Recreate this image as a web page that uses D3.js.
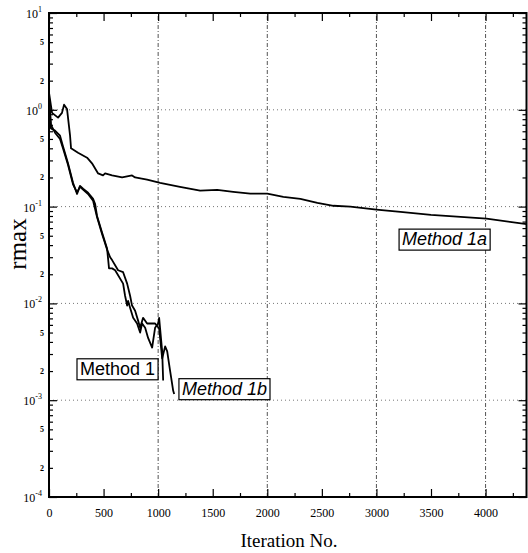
<!DOCTYPE html>
<html>
<head>
<meta charset="utf-8">
<script src="https://cdn.jsdelivr.net/npm/d3@7.9.0/dist/d3.min.js"></script>
<style>
  body { margin: 0; background: #fff; }
  svg { display: block; }
</style>
</head>
<body>
<div id="chart"></div>
<script>
// [iteration, rmax]
const method1 = [
  [0, 1.39], [18, 0.64], [55, 0.61], [101, 0.54], [128, 0.42], [174, 0.28],
  [220, 0.176], [257, 0.135], [284, 0.164], [312, 0.153], [358, 0.139],
  [404, 0.12], [422, 0.107], [440, 0.08], [486, 0.054], [532, 0.037],
  [550, 0.023], [578, 0.023], [606, 0.022], [679, 0.016], [697, 0.012],
  [716, 0.0095], [725, 0.0106], [743, 0.009], [771, 0.0071], [807, 0.0062],
  [835, 0.005], [853, 0.0062], [881, 0.0056], [908, 0.0044], [945, 0.0035],
  [954, 0.0041], [972, 0.0056], [1000, 0.0062], [1009, 0.0071],
  [1018, 0.0055], [1037, 0.0032], [1046, 0.0016]
];
const method1b = [
  [0, 1.3], [18, 0.7], [55, 0.58], [101, 0.5], [128, 0.4], [174, 0.27],
  [220, 0.17], [257, 0.14], [284, 0.16], [312, 0.15], [358, 0.135],
  [404, 0.115], [440, 0.078], [486, 0.052], [532, 0.036], [560, 0.03],
  [578, 0.028], [633, 0.022], [679, 0.021], [716, 0.016], [743, 0.012],
  [761, 0.0095], [789, 0.0084], [817, 0.0066], [835, 0.0056], [862, 0.0071],
  [899, 0.0062], [927, 0.0062], [972, 0.0062], [1009, 0.0055],
  [1037, 0.0027], [1064, 0.0036], [1083, 0.0032], [1110, 0.002],
  [1138, 0.00125], [1147, 0.00116]
];
const method1a = [
  [0, 1.5], [28, 0.93], [83, 0.83], [119, 0.93], [138, 1.13], [165, 1.02],
  [193, 0.54], [202, 0.40], [266, 0.36], [349, 0.32], [394, 0.28],
  [450, 0.22], [495, 0.21], [514, 0.22], [578, 0.21], [670, 0.20],
  [761, 0.21], [789, 0.20], [899, 0.19], [1018, 0.176], [1200, 0.16],
  [1385, 0.146], [1541, 0.149], [1688, 0.142], [1844, 0.136], [2000, 0.136],
  [2147, 0.126], [2303, 0.12], [2459, 0.109], [2606, 0.102], [2761, 0.1],
  [3000, 0.093], [3220, 0.088], [3500, 0.082], [4009, 0.075], [4376, 0.066]
];

const xMajorTicks = [0, 500, 1000, 1500, 2000, 2500, 3000, 3500, 4000];
const xMinorTicks = [250, 750, 1250, 1750, 2250, 2750, 3250, 3750, 4250];
const xGrid = [1000, 2000, 3000, 4000];
const yDecades = [10, 1, 0.1, 0.01, 0.001, 0.0001];
const yDecadeExp = ['1', '0', '-1', '-2', '-3', '-4'];
const yGrid = [1, 0.1, 0.01, 0.001];
const yMinorLabels = [5, 2];

const labels = [
  { text: 'Method 1', at: [284, 0.00183], italic: false },
  { text: 'Method 1b', at: [1218, 0.00114], italic: true },
  { text: 'Method 1a', at: [3235, 0.040], italic: true }
];

const width = 528, height = 553;
const svg = d3.select('#chart').append('svg')
  .attr('width', width)
  .attr('height', height);

const x = d3.scaleLinear().domain([0, 4375]).range([49, 526.5]);
const y = d3.scaleLog().domain([1e-4, 10]).range([497, 13]);

const serif = '"Liberation Serif", "DejaVu Serif", serif';
const sans = '"Liberation Sans", Arial, sans-serif';

// grid
svg.append('g').selectAll('line')
  .data(xGrid)
  .join('line')
  .attr('x1', d => x(d)).attr('x2', d => x(d))
  .attr('y1', y(10)).attr('y2', y(1e-4))
  .attr('stroke', '#555')
  .attr('stroke-width', 1)
  .attr('stroke-dasharray', '1 2 4 2');

svg.append('g').selectAll('line')
  .data(yGrid)
  .join('line')
  .attr('y1', d => y(d)).attr('y2', d => y(d))
  .attr('x1', x(0)).attr('x2', x(4375))
  .attr('stroke', '#777')
  .attr('stroke-width', 1)
  .attr('stroke-dasharray', '1 3');

// minor log ticks
const yMinor = [];
yDecades.slice(1).forEach(dec => {
  for (let k = 2; k <= 9; k++) yMinor.push(dec * k);
});

const tickStyle = g => {
  g.select('.domain').remove();
  g.selectAll('line').attr('stroke', '#000').attr('stroke-width', 1.2);
};

// bottom
svg.append('g')
  .attr('transform', `translate(0,${y(1e-4)})`)
  .call(d3.axisBottom(x).tickValues(xMajorTicks).tickSize(-8).tickPadding(11).tickFormat(d3.format('d')))
  .call(tickStyle)
  .call(g => g.selectAll('text')
    .attr('font-family', serif).attr('font-size', 12).attr('fill', '#000'));
svg.append('g')
  .attr('transform', `translate(0,${y(1e-4)})`)
  .call(d3.axisBottom(x).tickValues(xMinorTicks).tickSize(-4).tickFormat(''))
  .call(tickStyle);

// top
svg.append('g')
  .attr('transform', `translate(0,${y(10)})`)
  .call(d3.axisTop(x).tickValues(xMajorTicks).tickSize(-8).tickFormat(''))
  .call(tickStyle);
svg.append('g')
  .attr('transform', `translate(0,${y(10)})`)
  .call(d3.axisTop(x).tickValues(xMinorTicks).tickSize(-4).tickFormat(''))
  .call(tickStyle);

// left
svg.append('g')
  .attr('transform', `translate(${x(0)},0)`)
  .call(d3.axisLeft(y).tickValues(yDecades).tickSize(-8).tickFormat(''))
  .call(tickStyle);
svg.append('g')
  .attr('transform', `translate(${x(0)},0)`)
  .call(d3.axisLeft(y).tickValues(yMinor).tickSize(-4).tickFormat(''))
  .call(tickStyle);

// right
svg.append('g')
  .attr('transform', `translate(${x(4375)},0)`)
  .call(d3.axisRight(y).tickValues(yDecades).tickSize(-8).tickFormat(''))
  .call(tickStyle);
svg.append('g')
  .attr('transform', `translate(${x(4375)},0)`)
  .call(d3.axisRight(y).tickValues(yMinor).tickSize(-4).tickFormat(''))
  .call(tickStyle);

// y labels: decades
const decLabel = svg.append('g').selectAll('text')
  .data(yDecades)
  .join('text')
  .attr('x', 42)
  .attr('y', d => y(d) + 5)
  .attr('text-anchor', 'end')
  .attr('font-family', serif)
  .attr('font-size', 12)
  .attr('fill', '#000');
decLabel.append('tspan').text('10');
decLabel.append('tspan')
  .attr('dy', -6)
  .attr('font-size', 8)
  .text((d, i) => yDecadeExp[i]);

// y labels: 5 and 2
const minorLab = [];
yDecades.slice(1).forEach(dec => yMinorLabels.forEach(m => minorLab.push(dec * m)));
svg.append('g').selectAll('text')
  .data(minorLab)
  .join('text')
  .attr('x', 44)
  .attr('y', d => y(d) + 3)
  .attr('text-anchor', 'end')
  .attr('font-family', serif)
  .attr('font-weight', 'bold')
  .attr('font-size', 8)
  .attr('fill', '#000')
  .text(d => String(d).replace(/0\.0*/, '')[0]);

// frame
svg.append('rect')
  .attr('x', x(0)).attr('y', y(10))
  .attr('width', x(4375) - x(0))
  .attr('height', y(1e-4) - y(10))
  .attr('fill', 'none')
  .attr('stroke', '#000')
  .attr('stroke-width', 2);

// curves
const line = d3.line()
  .x(d => x(d[0]))
  .y(d => y(d[1]));

svg.append('g').selectAll('path')
  .data([method1, method1b, method1a])
  .join('path')
  .attr('d', line)
  .attr('fill', 'none')
  .attr('stroke', '#000')
  .attr('stroke-width', 1.8)
  .attr('stroke-linejoin', 'round');

// method labels with boxes
labels.forEach(l => {
  const g = svg.append('g');
  const t = g.append('text')
    .attr('x', x(l.at[0]))
    .attr('y', y(l.at[1]))
    .attr('font-family', sans)
    .attr('font-size', 18)
    .attr('font-style', l.italic ? 'italic' : 'normal')
    .text(l.text);
  const b = t.node().getBBox();
  g.insert('rect', 'text')
    .attr('x', b.x - 3).attr('y', b.y)
    .attr('width', b.width + 6).attr('height', b.height + 1)
    .attr('fill', '#fff')
    .attr('stroke', '#000')
    .attr('stroke-width', 1.2);
});

// axis titles
svg.append('text')
  .attr('x', 289).attr('y', 547)
  .attr('text-anchor', 'middle')
  .attr('font-family', serif)
  .attr('font-size', 19)
  .text('Iteration No.');

svg.append('text')
  .attr('transform', 'translate(26,244) rotate(-90)')
  .attr('text-anchor', 'middle')
  .attr('font-family', serif)
  .attr('font-size', 25)
  .text('rmax');
</script>
</body>
</html>
